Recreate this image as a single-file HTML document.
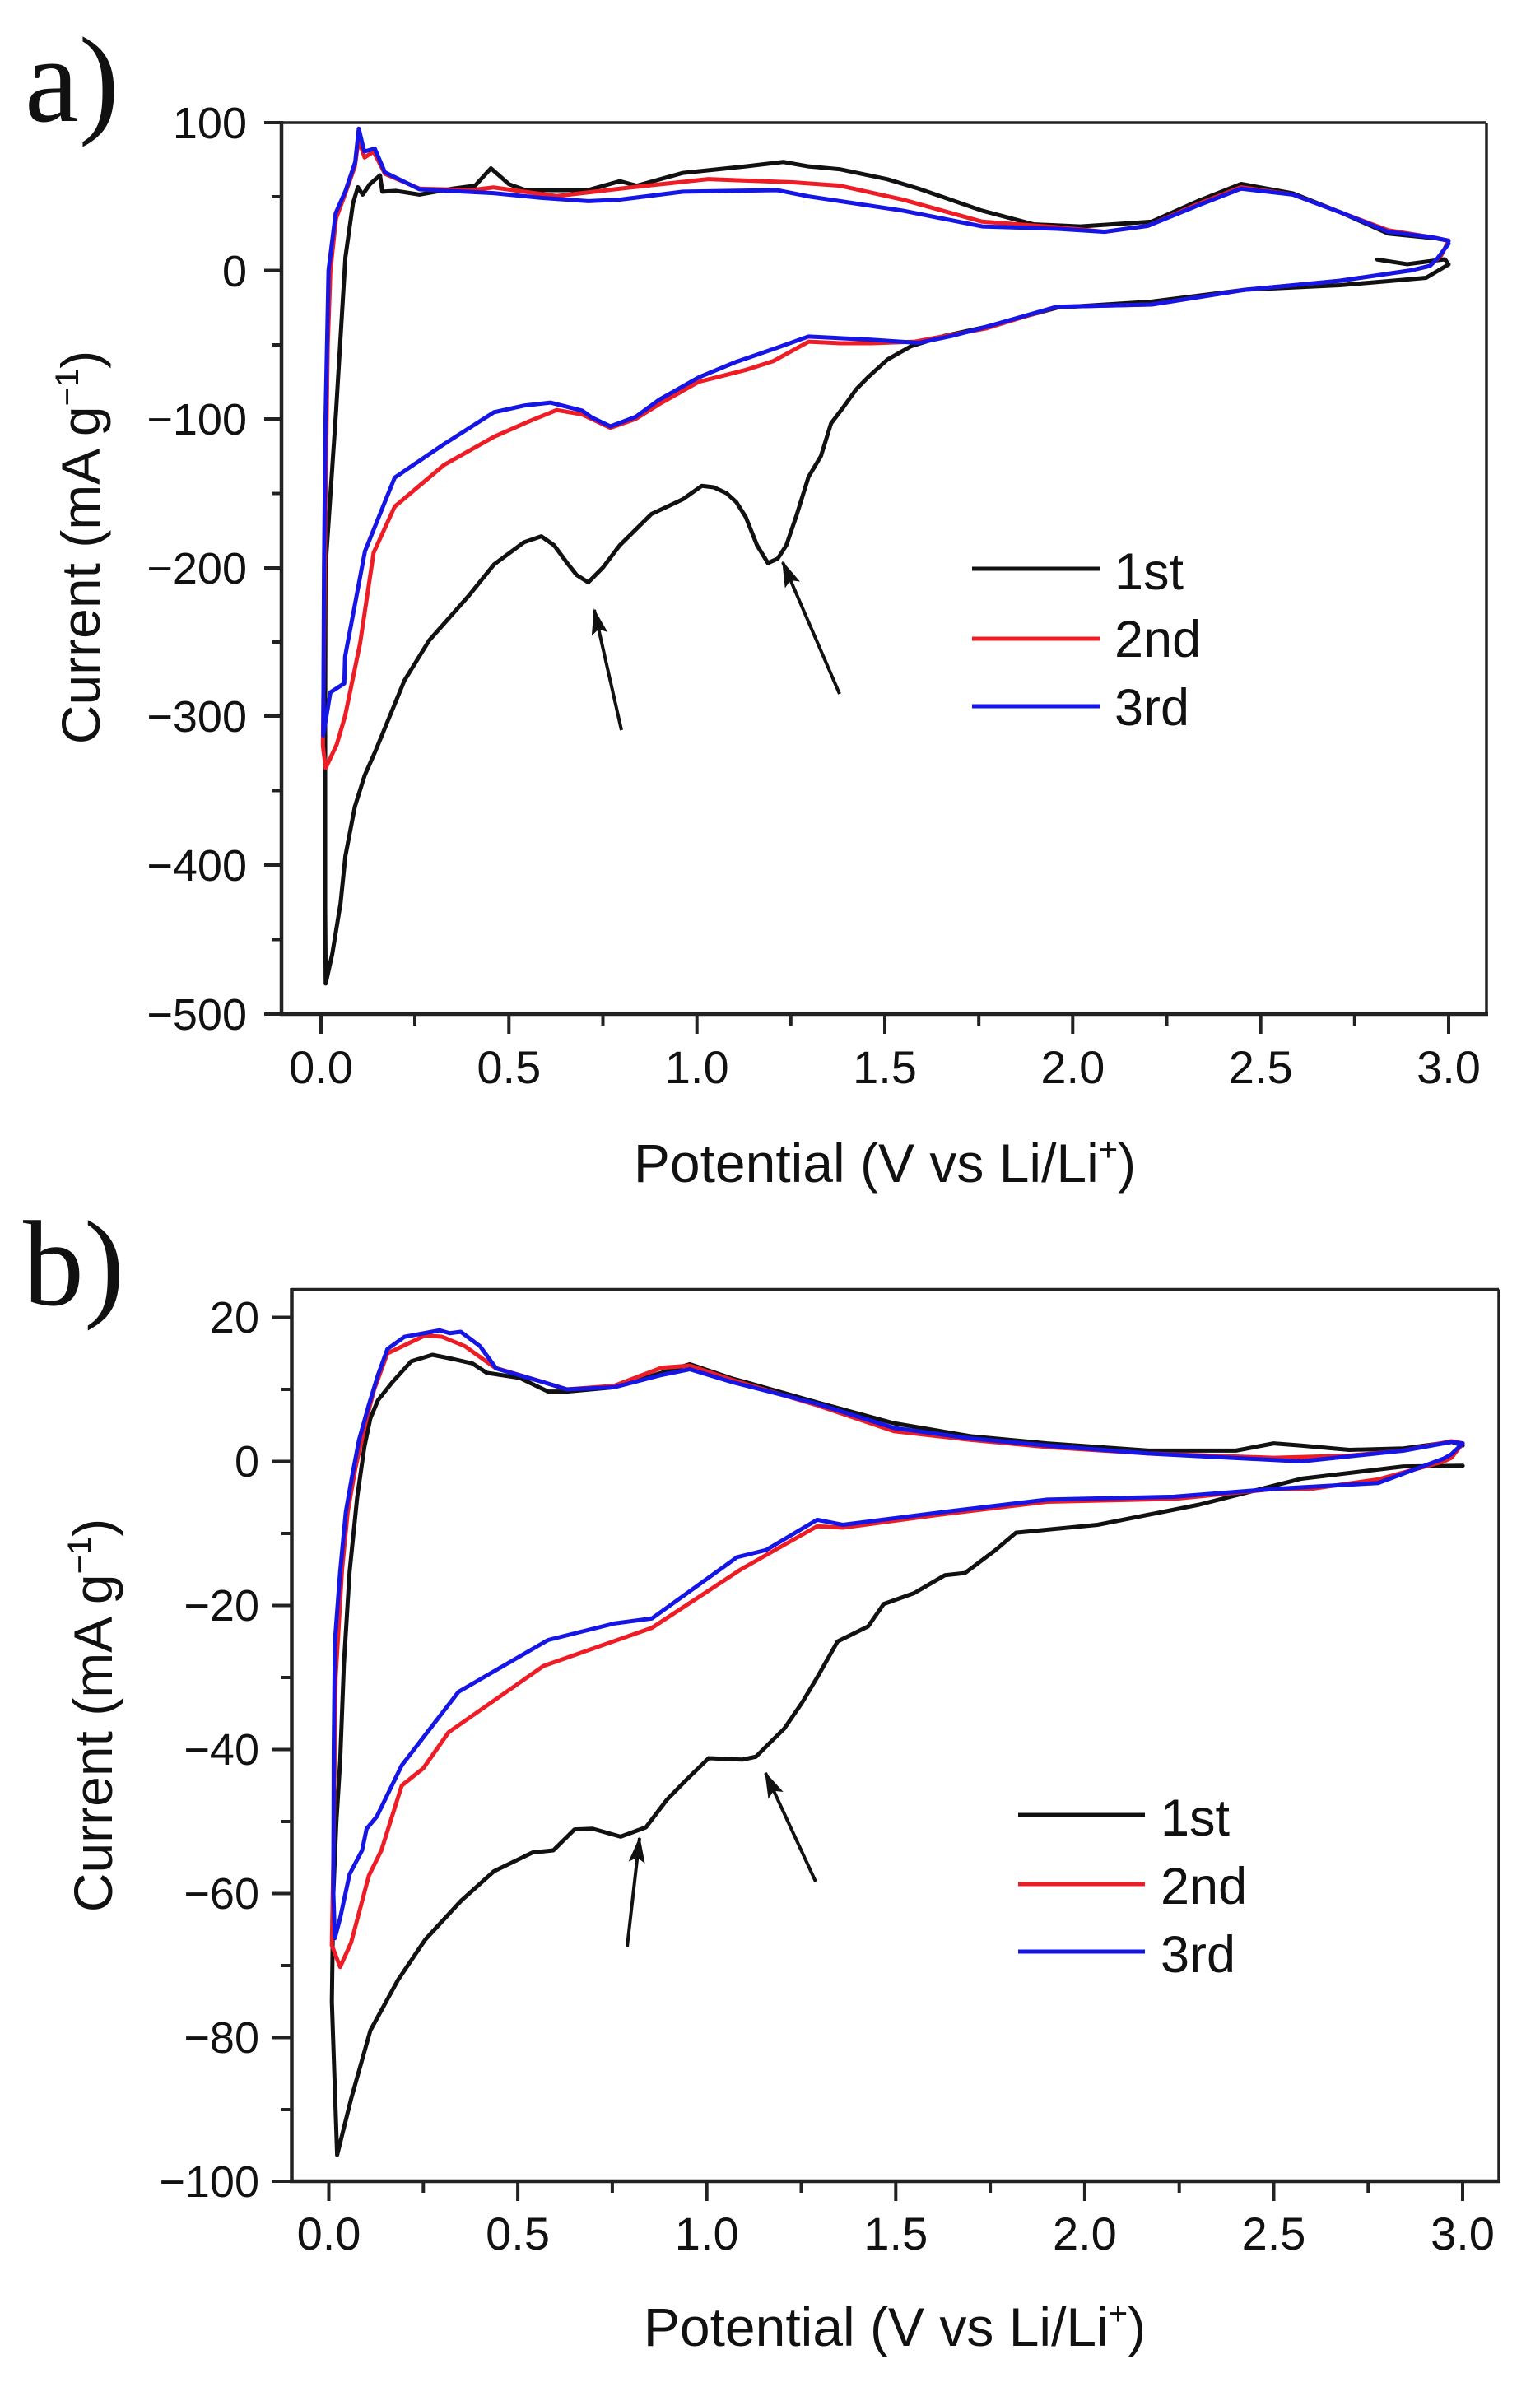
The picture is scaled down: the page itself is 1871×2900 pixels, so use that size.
<!DOCTYPE html>
<html><head><meta charset="utf-8"><style>
html,body{margin:0;padding:0;background:#fff;}
svg{display:block;}
text{font-family:"Liberation Sans",Arial,sans-serif;fill:#111;}
.d{fill:none;stroke-width:5;stroke-linejoin:round;stroke-linecap:round;}
</style></head><body>
<svg width="1871" height="2900" viewBox="0 0 1871 2900" xmlns="http://www.w3.org/2000/svg">
<defs>
<marker id="ah" markerUnits="userSpaceOnUse" markerWidth="34" markerHeight="22" refX="30" refY="10" orient="auto">
<path d="M0,0 L32,10 L0,20 L6,10 z" fill="#111"/>
</marker>
</defs>

<!-- ================= PANEL A ================= -->
<text x="30" y="147" style="font-family:'Liberation Serif',serif;font-size:148px">a)</text>
<line x1="342" y1="149" x2="1806" y2="149" stroke="#222" stroke-width="3.5"/>
<line x1="1806" y1="149" x2="1806" y2="1232" stroke="#222" stroke-width="3.5"/>
<line x1="342" y1="147" x2="342" y2="1234" stroke="#222" stroke-width="4.5"/>
<line x1="340" y1="1232" x2="1808" y2="1232" stroke="#222" stroke-width="4.5"/>
<g stroke="#222" stroke-width="4">
<line x1="321" y1="149" x2="342" y2="149"/><line x1="330" y1="239" x2="342" y2="239"/>
<line x1="321" y1="328.5" x2="342" y2="328.5"/><line x1="330" y1="419" x2="342" y2="419"/>
<line x1="321" y1="509" x2="342" y2="509"/><line x1="330" y1="599.5" x2="342" y2="599.5"/>
<line x1="321" y1="690" x2="342" y2="690"/><line x1="330" y1="780" x2="342" y2="780"/>
<line x1="321" y1="870" x2="342" y2="870"/><line x1="330" y1="960.5" x2="342" y2="960.5"/>
<line x1="321" y1="1051" x2="342" y2="1051"/><line x1="330" y1="1141.5" x2="342" y2="1141.5"/>
<line x1="321" y1="1232" x2="342" y2="1232"/>
</g>
<g font-size="54" text-anchor="end">
<text x="300" y="168">100</text>
<text x="300" y="348">0</text>
<text x="300" y="528">−100</text>
<text x="300" y="709">−200</text>
<text x="300" y="889">−300</text>
<text x="300" y="1070">−400</text>
<text x="300" y="1251">−500</text>
</g>
<g stroke="#222" stroke-width="4">
<line x1="390" y1="1232" x2="390" y2="1256"/><line x1="504" y1="1232" x2="504" y2="1246"/>
<line x1="618.3" y1="1232" x2="618.3" y2="1256"/><line x1="732.5" y1="1232" x2="732.5" y2="1246"/>
<line x1="846.7" y1="1232" x2="846.7" y2="1256"/><line x1="960.8" y1="1232" x2="960.8" y2="1246"/>
<line x1="1075" y1="1232" x2="1075" y2="1256"/><line x1="1189.2" y1="1232" x2="1189.2" y2="1246"/>
<line x1="1303.3" y1="1232" x2="1303.3" y2="1256"/><line x1="1417.5" y1="1232" x2="1417.5" y2="1246"/>
<line x1="1531.7" y1="1232" x2="1531.7" y2="1256"/><line x1="1645.8" y1="1232" x2="1645.8" y2="1246"/>
<line x1="1760" y1="1232" x2="1760" y2="1256"/>
</g>
<g font-size="56" text-anchor="middle">
<text x="390" y="1316">0.0</text>
<text x="618.3" y="1316">0.5</text>
<text x="846.7" y="1316">1.0</text>
<text x="1075" y="1316">1.5</text>
<text x="1303.3" y="1316">2.0</text>
<text x="1531.7" y="1316">2.5</text>
<text x="1760" y="1316">3.0</text>
</g>
<text x="1075" y="1436" font-size="66" text-anchor="middle">Potential (V vs Li/Li<tspan font-size="40" dy="-26">+</tspan><tspan dy="26">)</tspan></text>
<text transform="translate(121,665) rotate(-90)" font-size="66" text-anchor="middle">Current (mA g<tspan font-size="40" dy="-26">−1</tspan><tspan dy="26">)</tspan></text>

<g transform="translate(390,328.5) scale(456.67,-1.805)">
<path class="d" vector-effect="non-scaling-stroke" stroke="#111" d="M2.81,7.3 L2.89,4.2 2.96,6.5 2.99,7.5 3.0,4 2.94,-5 2.85,-7 2.71,-10 2.46,-13 2.21,-21 1.96,-25 1.77,-38 1.66,-44 1.57,-51 1.507,-60 1.455,-72 1.424,-80 1.39,-92 1.357,-103 1.33,-125 1.297,-139 1.265,-165 1.238,-185 1.215,-194 1.189,-197 1.16,-185 1.13,-166 1.105,-156 1.079,-150 1.045,-146 1.013,-145 0.963,-154 0.879,-164 0.795,-185 0.75,-200 0.711,-210 0.68,-205 0.652,-196 0.62,-185 0.586,-179 0.54,-183 0.46,-198 0.393,-219 0.288,-249 0.222,-276 0.144,-324 0.116,-340 0.09,-361 0.065,-394 0.052,-426 0.03,-460 0.0125,-480 0.011,-430 0.011,-300 0.012,-200 0.04,-95 0.065,9 0.085,45 0.098,56 0.111,51 0.13,58 0.157,64 0.163,53 0.2,53.5 0.262,51 0.35,55 0.41,57 0.452,68.7 0.5,58 0.544,54 0.71,54 0.795,60 0.84,57 0.963,65.6 1.13,70 1.23,73 1.297,70 1.382,68 1.506,61.4 1.59,55 1.759,40.2 1.896,31 2.02,29.6 2.21,32.8 2.336,47 2.448,58.2 2.586,51.8 2.713,39 2.839,24.8 2.963,21.7 3.0,20"/>
<path class="d" vector-effect="non-scaling-stroke" stroke="#ee1c24" d="M3.0,20 L2.98,10 2.95,3 2.9,0 2.71,-7 2.46,-13 2.21,-23 1.957,-24.5 1.77,-39 1.58,-48 1.464,-49 1.38,-49 1.297,-48 1.204,-61 1.13,-67 1.005,-75 0.9,-90 0.837,-100 0.77,-106 0.72,-100 0.695,-97 0.627,-94 0.55,-102 0.46,-112 0.327,-131 0.196,-159 0.14,-190 0.104,-251 0.064,-300 0.042,-319 0.0125,-335 0.005,-320 0.008,-250 0.012,-150 0.018,-50 0.025,0 0.04,35 0.065,52 0.09,70 0.1,88 0.116,76 0.14,80 0.17,65 0.262,55 0.4,54 0.459,55.8 0.627,50 0.795,55 1.03,61.4 1.255,59.3 1.38,57 1.548,47.6 1.759,32.8 1.96,29 2.085,26 2.2,30 2.336,45 2.448,56 2.586,51 2.713,39 2.839,27 2.963,22 3.0,20"/>
<path class="d" vector-effect="non-scaling-stroke" stroke="#1515e6" d="M3.0,18 L2.97,8 2.95,3 2.9,0 2.71,-7 2.46,-13 2.21,-23 1.957,-24.5 1.77,-38 1.68,-44 1.59,-48.8 1.464,-46.7 1.297,-44.5 1.214,-52 1.1,-62 1.005,-72 0.9,-87 0.837,-98.6 0.77,-105 0.72,-99 0.695,-94.4 0.611,-89 0.54,-91 0.46,-95.5 0.327,-117 0.196,-139.5 0.117,-189 0.064,-260 0.062,-278 0.025,-284 0.006,-313 0.008,-200 0.012,-100 0.02,0 0.039,38.5 0.065,53.4 0.091,73 0.1005,95.4 0.115,80 0.143,82 0.17,66 0.262,54.6 0.459,52 0.586,48.8 0.711,46.6 0.795,47.6 0.963,53 1.214,54 1.297,49.8 1.548,40.2 1.759,29.6 1.96,28 2.085,26 2.2,30 2.336,44 2.448,55 2.586,51 2.713,39 2.839,26 2.963,22 3.0,20"/>
</g>
<line x1="755" y1="887" x2="722" y2="741" stroke="#111" stroke-width="4" marker-end="url(#ah)"/>
<line x1="1020" y1="843" x2="951" y2="683" stroke="#111" stroke-width="4" marker-end="url(#ah)"/>
<line x1="1181" y1="691" x2="1336" y2="691" stroke="#111" stroke-width="5"/>
<line x1="1181" y1="776" x2="1336" y2="776" stroke="#ee1c24" stroke-width="5"/>
<line x1="1181" y1="858" x2="1336" y2="858" stroke="#1515e6" stroke-width="5"/>
<g font-size="63">
<text x="1354" y="716">1st</text>
<text x="1354" y="798">2nd</text>
<text x="1354" y="881">3rd</text>
</g>

<!-- ================= PANEL B ================= -->
<text x="28" y="1585" style="font-family:'Liberation Serif',serif;font-size:148px">b)</text>
<line x1="354" y1="1566.5" x2="1821" y2="1566.5" stroke="#222" stroke-width="3.5"/>
<line x1="1821" y1="1566.5" x2="1821" y2="2650" stroke="#222" stroke-width="3.5"/>
<line x1="354.5" y1="1565" x2="354.5" y2="2652" stroke="#222" stroke-width="4.5"/>
<line x1="352" y1="2650" x2="1823" y2="2650" stroke="#222" stroke-width="4.5"/>
<g stroke="#222" stroke-width="4">
<line x1="331" y1="1600.5" x2="354" y2="1600.5"/><line x1="342" y1="1688" x2="354" y2="1688"/>
<line x1="331" y1="1775.5" x2="354" y2="1775.5"/><line x1="342" y1="1863" x2="354" y2="1863"/>
<line x1="331" y1="1950.5" x2="354" y2="1950.5"/><line x1="342" y1="2038" x2="354" y2="2038"/>
<line x1="331" y1="2125.5" x2="354" y2="2125.5"/><line x1="342" y1="2213" x2="354" y2="2213"/>
<line x1="331" y1="2300.5" x2="354" y2="2300.5"/><line x1="342" y1="2388" x2="354" y2="2388"/>
<line x1="331" y1="2475.5" x2="354" y2="2475.5"/><line x1="342" y1="2563" x2="354" y2="2563"/>
<line x1="331" y1="2650" x2="354" y2="2650"/>
</g>
<g font-size="54" text-anchor="end">
<text x="315" y="1619">20</text>
<text x="315" y="1794">0</text>
<text x="315" y="1969">−20</text>
<text x="315" y="2144">−40</text>
<text x="315" y="2319">−60</text>
<text x="315" y="2494">−80</text>
<text x="315" y="2669">−100</text>
</g>
<g stroke="#222" stroke-width="4">
<line x1="399.5" y1="2650" x2="399.5" y2="2674"/><line x1="514.3" y1="2650" x2="514.3" y2="2664"/>
<line x1="629.1" y1="2650" x2="629.1" y2="2674"/><line x1="743.9" y1="2650" x2="743.9" y2="2664"/>
<line x1="858.7" y1="2650" x2="858.7" y2="2674"/><line x1="973.5" y1="2650" x2="973.5" y2="2664"/>
<line x1="1088.3" y1="2650" x2="1088.3" y2="2674"/><line x1="1203.1" y1="2650" x2="1203.1" y2="2664"/>
<line x1="1317.9" y1="2650" x2="1317.9" y2="2674"/><line x1="1432.7" y1="2650" x2="1432.7" y2="2664"/>
<line x1="1547.5" y1="2650" x2="1547.5" y2="2674"/><line x1="1662.3" y1="2650" x2="1662.3" y2="2664"/>
<line x1="1777" y1="2650" x2="1777" y2="2674"/>
</g>
<g font-size="56" text-anchor="middle">
<text x="399.5" y="2733">0.0</text>
<text x="629.1" y="2733">0.5</text>
<text x="858.7" y="2733">1.0</text>
<text x="1088.3" y="2733">1.5</text>
<text x="1317.9" y="2733">2.0</text>
<text x="1547.5" y="2733">2.5</text>
<text x="1777" y="2733">3.0</text>
</g>
<text x="1087" y="2850" font-size="66" text-anchor="middle">Potential (V vs Li/Li<tspan font-size="40" dy="-26">+</tspan><tspan dy="26">)</tspan></text>
<text transform="translate(136,2084) rotate(-90)" font-size="66" text-anchor="middle">Current (mA g<tspan font-size="40" dy="-26">−1</tspan><tspan dy="26">)</tspan></text>

<g transform="translate(399.5,1775.5) scale(459.2,-8.75)">
<path class="d" vector-effect="non-scaling-stroke" stroke="#111" d="M3.0,-0.6 L2.843,-0.7 2.573,-2.4 2.303,-6 2.034,-8.8 1.818,-9.9 1.764,-12.3 1.683,-15.5 1.63,-15.8 1.548,-18.3 1.468,-19.8 1.427,-22.9 1.346,-25 1.292,-30 1.252,-33.5 1.205,-37.1 1.172,-38.8 1.13,-41 1.094,-41.4 1.005,-41.2 0.95,-44 0.894,-47 0.839,-50.8 0.772,-52.1 0.698,-51 0.65,-51.1 0.594,-54 0.539,-54.3 0.437,-56.9 0.35,-61 0.255,-66.4 0.183,-72 0.11,-79 0.059,-88.5 0.022,-96.3 0.008,-75 0.012,-60 0.02,-50 0.03,-41.6 0.04,-28 0.055,-15.3 0.075,-5 0.094,2 0.11,6 0.13,8.5 0.168,11 0.218,13.9 0.274,14.8 0.33,14.2 0.38,13.6 0.418,12.3 0.505,11.6 0.58,9.7 0.63,9.7 0.755,10.3 0.88,12.3 0.955,13.5 1.068,11.5 1.09,11.2 1.292,8.2 1.495,5.3 1.697,3.5 1.9,2.5 2.169,1.5 2.4,1.5 2.5,2.5 2.573,2.2 2.7,1.6 2.843,1.8 2.971,2.7 3.0,2.2"/>
<path class="d" vector-effect="non-scaling-stroke" stroke="#ee1c24" d="M3.0,2.5 L2.97,0.5 2.95,0 2.776,-2.5 2.6,-3.8 2.505,-3.8 2.236,-5.2 1.9,-5.6 1.63,-7.3 1.36,-9.2 1.292,-9 1.157,-13 1.09,-15 0.855,-23.1 0.568,-28.4 0.317,-37.6 0.25,-42.6 0.193,-45 0.139,-54 0.106,-57.5 0.059,-66.8 0.03,-70.2 0.008,-67.2 0.012,-55 0.018,-30 0.035,-15 0.05,-7 0.07,-1 0.1,6 0.12,10 0.155,15 0.255,17.5 0.3,17.3 0.36,16 0.44,13 0.568,11 0.63,10 0.755,10.5 0.88,13 0.955,13.3 1.068,11.3 1.292,7.8 1.495,4.2 1.697,3 1.9,2 2.169,1.1 2.5,0.5 2.7,0.8 2.843,1.5 2.97,2.8 3.0,2.5"/>
<path class="d" vector-effect="non-scaling-stroke" stroke="#1515e6" d="M3.0,2.5 L2.97,1 2.95,0.4 2.776,-3 2.505,-3.8 2.236,-4.9 1.9,-5.3 1.63,-7 1.36,-8.8 1.292,-8.1 1.157,-12.3 1.08,-13.3 0.855,-21.8 0.755,-22.5 0.58,-24.8 0.343,-32 0.193,-42.2 0.127,-49.3 0.1,-51 0.088,-54 0.055,-57.3 0.03,-63.4 0.016,-66.2 0.012,-60 0.013,-40 0.016,-25 0.03,-15.3 0.045,-7 0.061,-2.2 0.08,3 0.105,7.7 0.13,12 0.155,15.6 0.2,17.3 0.293,18.2 0.32,17.8 0.349,18 0.4,16 0.443,12.9 0.568,11 0.63,10 0.755,10.3 0.88,12 0.955,12.8 1.068,11 1.292,8 1.495,4.65 1.697,3.2 1.9,2.2 2.169,1.1 2.573,0 2.843,1.5 2.97,2.7 3.0,2.5"/>
</g>
<line x1="762" y1="2365" x2="777" y2="2233" stroke="#111" stroke-width="4" marker-end="url(#ah)"/>
<line x1="991" y1="2286" x2="930" y2="2154" stroke="#111" stroke-width="4" marker-end="url(#ah)"/>
<line x1="1237" y1="2205" x2="1391" y2="2205" stroke="#111" stroke-width="5"/>
<line x1="1237" y1="2289" x2="1391" y2="2289" stroke="#ee1c24" stroke-width="5"/>
<line x1="1237" y1="2371" x2="1391" y2="2371" stroke="#1515e6" stroke-width="5"/>
<g font-size="63">
<text x="1410" y="2230">1st</text>
<text x="1410" y="2313">2nd</text>
<text x="1410" y="2396">3rd</text>
</g>
</svg>
</body></html>
